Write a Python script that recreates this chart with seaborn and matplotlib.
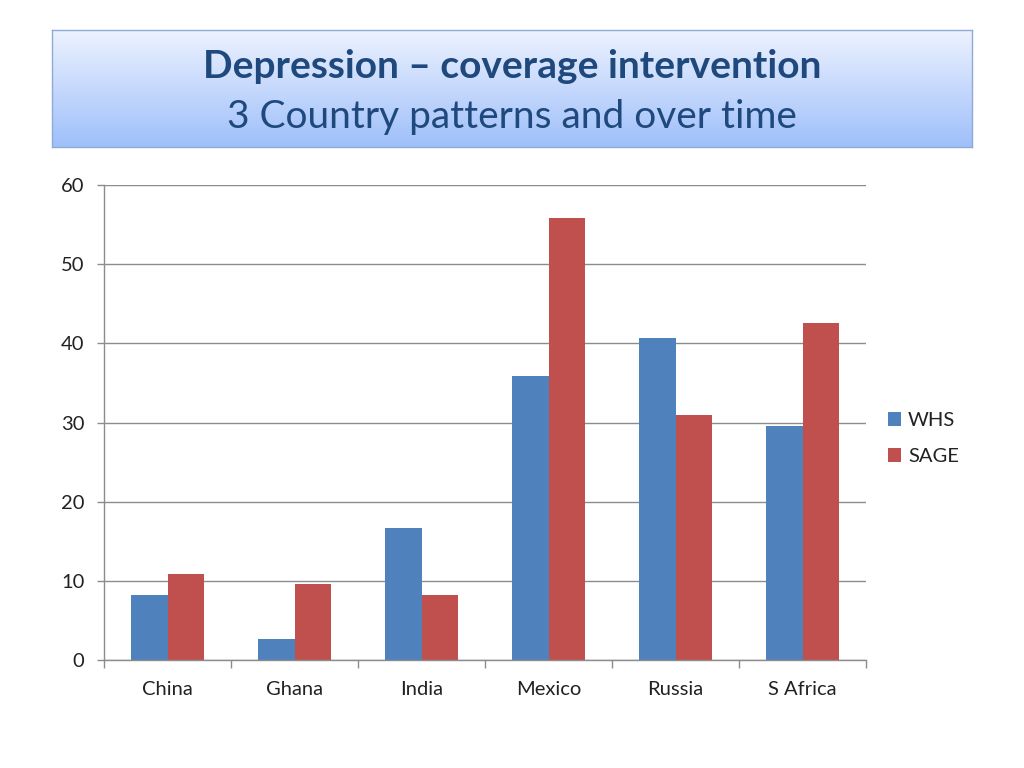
import numpy as np
import pandas as pd
import matplotlib
matplotlib.use("Agg")
import matplotlib.pyplot as plt
import seaborn as sns

countries = ["China", "Ghana", "India", "Mexico", "Russia", "S Africa"]
whs = [8.2, 2.7, 16.7, 35.9, 40.7, 29.6]
sage = [10.9, 9.6, 8.2, 55.8, 30.9, 42.6]
series = ["WHS", "SAGE"]
yticks = [0, 10, 20, 30, 40, 50, 60]

df = pd.DataFrame({
    "country": countries * 2,
    "value": whs + sage,
    "series": ["WHS"] * len(countries) + ["SAGE"] * len(countries),
})

sns.set_theme(style="white")
plt.rcParams["font.family"] = ["Lato", "DejaVu Sans"]

fig = plt.figure(figsize=(10.24, 7.68), dpi=100)
ax = fig.add_axes([104/1024, 1 - 660/768, (866-104)/1024, (660-185)/768])

palette = {"WHS": "#4F81BD", "SAGE": "#C0504D"}
sns.barplot(data=df, x="country", y="value", hue="series", hue_order=series,
            palette=palette, width=0.57, saturation=1, ax=ax, legend=True,
            linewidth=0)

ax.set_ylim(0, 60)
ax.set_xlim(-0.5, len(countries) - 0.5)
ax.set_yticks(yticks)
ax.set_yticklabels([str(t) for t in yticks], fontsize=14.5, color="#222222")
ax.yaxis.grid(True, color="#8c8c8c", linewidth=1)
ax.set_axisbelow(True)
ax.set_xlabel("")
ax.set_ylabel("")
ax.set_xticks(range(len(countries)))
ax.set_xticklabels(countries, fontsize=14.5, color="#222222")
ax.tick_params(axis="x", length=0, pad=15)
ax.tick_params(axis="y", length=5, width=1, color="#8c8c8c", left=True, pad=9)
ax.set_xticks(np.arange(-0.5, len(countries), 1.0), minor=True)
ax.tick_params(axis="x", which="minor", length=6, width=1, color="#8c8c8c", bottom=True)
for s in ["top", "right"]:
    ax.spines[s].set_visible(False)
for s in ["left", "bottom"]:
    ax.spines[s].set_color("#8c8c8c")
    ax.spines[s].set_linewidth(1)

leg = ax.legend(loc="center left", bbox_to_anchor=(1.005, 0.466), frameon=False,
                fontsize=14.5, handlelength=0.65, handleheight=0.65, handletextpad=0.35,
                labelspacing=0.95)
for t in leg.get_texts():
    t.set_color("#222222")

# Title box with gradient
tax = fig.add_axes([52/1024, 1 - 147/768, (972-52)/1024, (147-30)/768])
grad = np.linspace(0, 1, 256).reshape(-1, 1)
top_c = np.array([0.93, 0.95, 1.0])
bot_c = np.array([0.62, 0.75, 0.98])
img = top_c[None, None, :] * (1 - grad[:, :, None]) + bot_c[None, None, :] * grad[:, :, None]
tax.imshow(img, aspect="auto", extent=[0, 1, 0, 1], origin="upper")
tax.set_xlim(0, 1)
tax.set_ylim(0, 1)
tax.set_xticks([])
tax.set_yticks([])
for s in tax.spines.values():
    s.set_color("#8eaad8")
    s.set_linewidth(1)
tax.text(0.5, 0.69, "Depression \u2013 coverage intervention", ha="center", va="center",
         fontsize=28, fontweight="bold", color="#1F497D", transform=tax.transAxes)
tax.text(0.5, 0.26, "3 Country patterns and over time", ha="center", va="center",
         fontsize=28, color="#1F497D", transform=tax.transAxes)

fig.savefig("out.png", dpi=100)
